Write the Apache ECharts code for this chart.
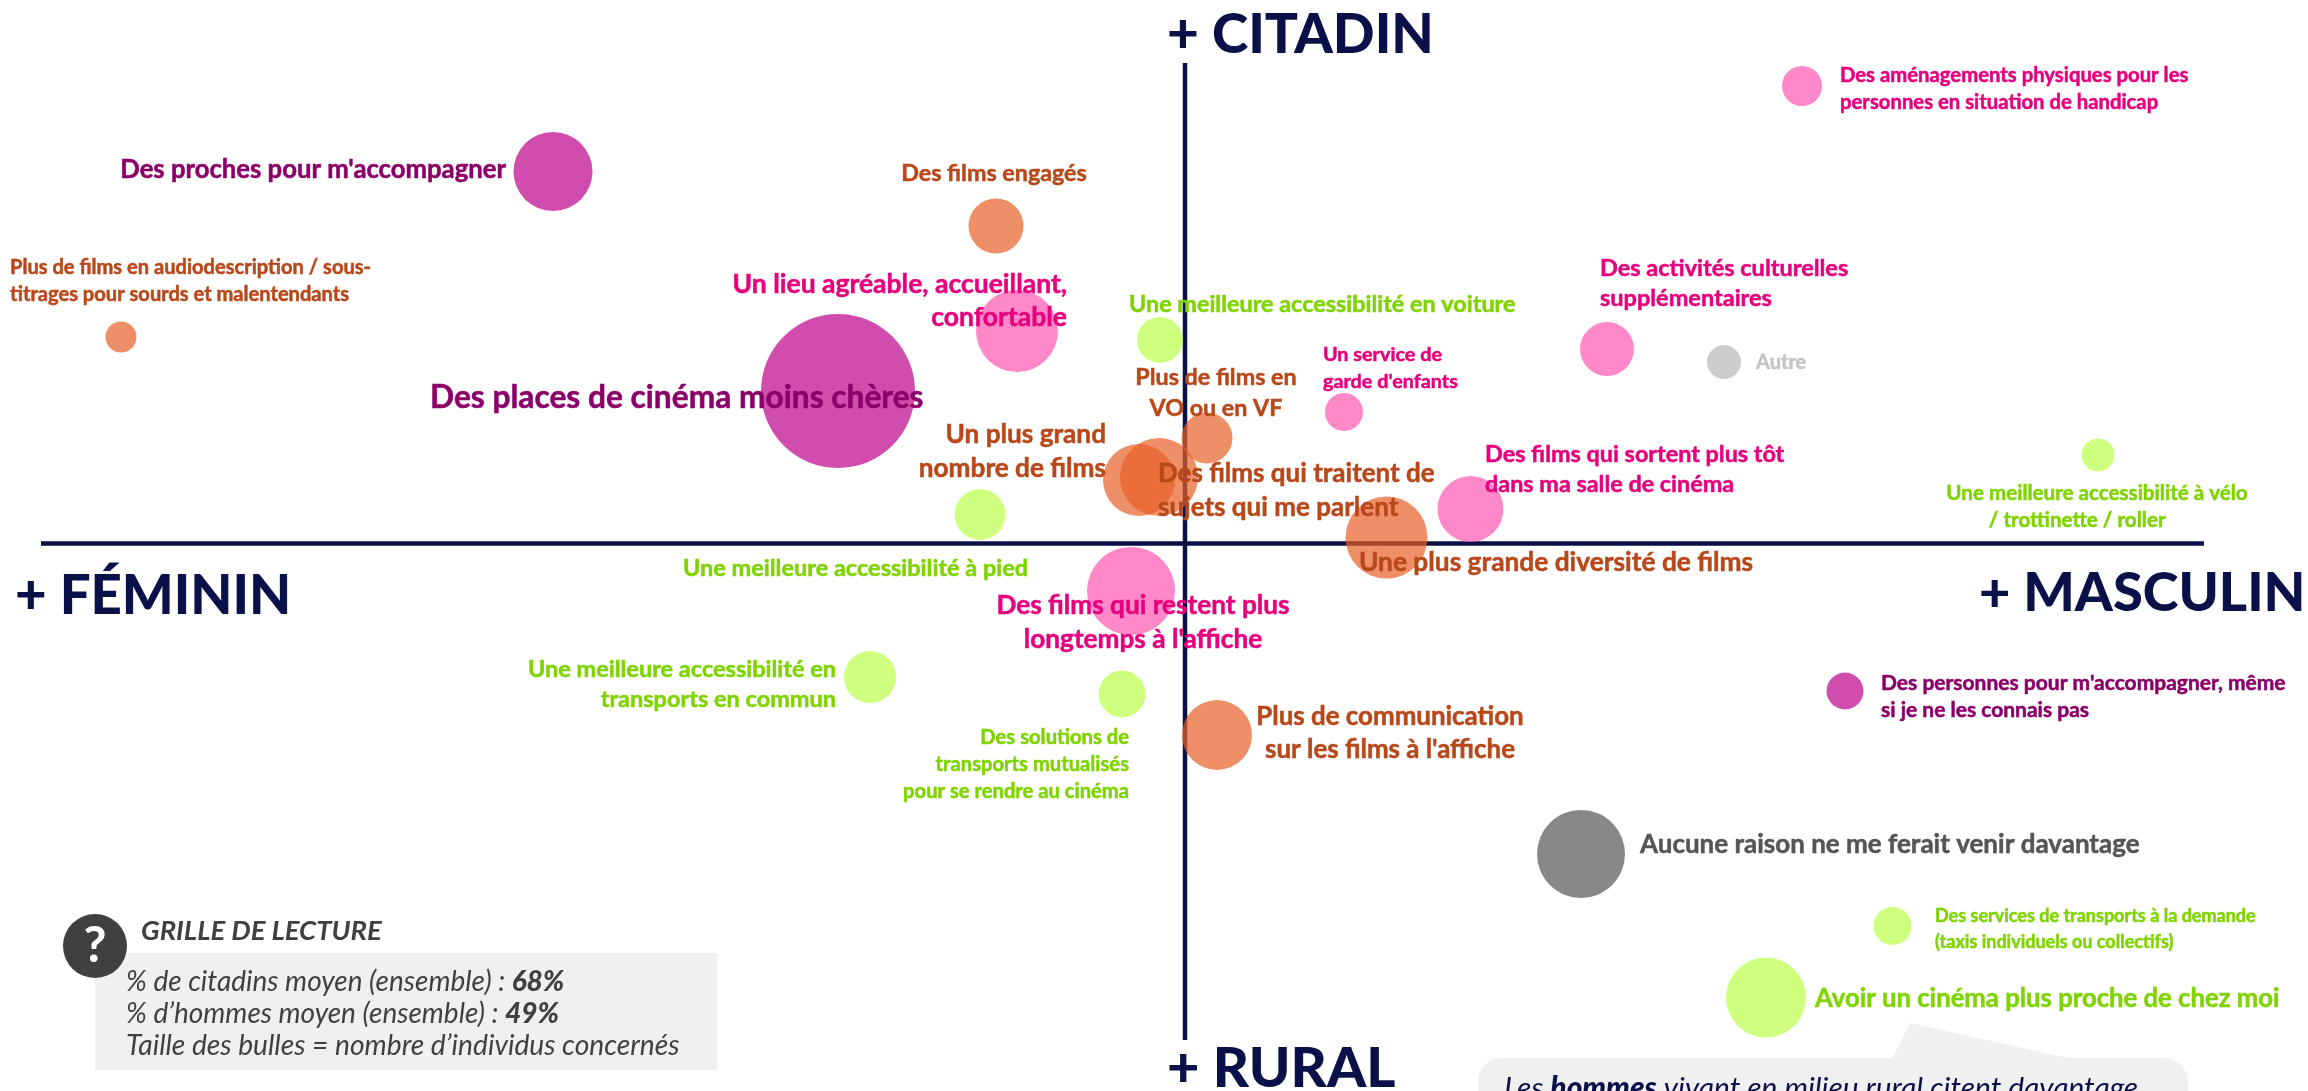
<!DOCTYPE html>
<html>
<head>
<meta charset="utf-8">
<title>Bulles citadin / rural</title>
<script src="https://cdn.jsdelivr.net/npm/echarts@6/dist/echarts.min.js"></script>
<style>
html,body{margin:0;padding:0;background:#fff;overflow:hidden}
#main{width:2308px;height:1091px}
</style>
</head>
<body>
<div id="main"></div>
<script>
// moyennes de l'ensemble
var avgHommes = 49;
var avgCitadins = 68;

var labels = [
	"Des places de cinéma moins chères",
	"Des proches pour m'accompagner",
	"Plus de films en audiodescription / sous-\ntitrages pour sourds et malentendants",
	"Des films engagés",
	"Un lieu agréable, accueillant,\nconfortable",
	"Une meilleure accessibilité en voiture",
	"Plus de films en\nVO ou en VF",
	"Un service de\ngarde d'enfants",
	"Un plus grand\nnombre de films",
	"Des films qui traitent de\nsujets qui me parlent",
	"Une plus grande diversité de films",
	"Des films qui sortent plus tôt\ndans ma salle de cinéma",
	"Une meilleure accessibilité à pied",
	"Des films qui restent plus\nlongtemps à l'affiche",
	"Des activités culturelles\nsupplémentaires",
	"Autre",
	"Des aménagements physiques pour les\npersonnes en situation de handicap",
	"Une meilleure accessibilité à vélo\n/ trottinette / roller\u00a0\u00a0\u00a0\u00a0\u00a0\u00a0\u00a0\u00a0",
	"Des personnes pour m'accompagner, même\nsi je ne les connais pas",
	"Aucune raison ne me ferait venir davantage",
	"Des services de transports à la demande\n(taxis individuels ou collectifs)",
	"Avoir un cinéma plus proche de chez moi",
	"Une meilleure accessibilité en\ntransports en commun",
	"Des solutions de\ntransports mutualisés\npour se rendre au cinéma",
	"Plus de communication\nsur les films à l'affiche"
];
var pctHommes = [42.06,36.36,27.72,45.22,45.64,48.5,49.44,52.18,48.08,48.48,53.03,54.71,44.9,47.92,57.44,59.78,61.34,67.26,62.2,56.92,63.15,60.62,42.7,47.74,49.64];
var pctCitadins = [74.10,82.88,76.26,80.70,76.50,76.14,72.22,73.26,70.54,70.66,68.24,69.38,69.16,66.10,75.78,75.26,86.30,71.54,62.10,55.58,52.70,49.84,62.66,61.98,60.34];
var nbIndividus = [5929,1560,240,756,1681,529,650,361,1296,1521,1681,1089,650,1936,729,289,400,272,342,1936,361,1600,676,552,1225];
var groupes = ["accomp","accomp","offre","offre","salle","acces","offre","salle","offre","offre","offre","salle","acces","salle","salle","autre","salle","acces","accomp","aucune","acces","acces","acces","acces","offre"];

// bornes des axes hommes / citadins
var xRange = [25.3,71.46];
var yRange = [46.10,89.74];
var hLineX = [26.12,69.38];
var vLineY = [48.14,87.22];

var bubbleColor = {accomp:'rgba(188,0,138,0.7)',offre:'rgba(232,96,39,0.7)',salle:'rgba(255,85,176,0.7)',acces:'rgba(186,255,73,0.7)',autre:'rgba(182,182,182,0.7)',aucune:'rgba(85,85,85,0.7)'};
var textColor = {accomp:'#8B0068',offre:'#B8481A',salle:'#E6007E',acces:'#7FD400',autre:'#C4C4C4',aucune:'#555555'};

// x, y, align, fontSize, lineHeight
var labelPos = [
	[430,398,'left',31.7,36],
	[506,170,'right',25.7,32],
	[10,281,'left',20.1,27],
	[994,173,'center',23.3,28],
	[1067,301,'right',26.5,33],
	[1129,304,'left',23.4,28],
	[1216,393,'center',23.3,31],
	[1323,368,'left',19.8,27],
	[1106,452,'right',26.2,34],
	[1158,491,'left',26,34],
	[1359,563,'left',26.3,32],
	[1485,469,'left',23.4,30],
	[683,568,'left',23.5,28],
	[1143,623,'center',26.2,34],
	[1600,283,'left',23.5,30],
	[1756,363,'left',20,24],
	[1840,89,'left',20.3,27],
	[2097,507,'center',20.6,27],
	[1881,697,'left',21,27],
	[1640,845,'left',26,32],
	[1935,929,'left',18,26],
	[1815,999,'left',25.7,32],
	[836,684,'right',23.5,30],
	[1129,764,'right',20.2,27],
	[1390,733,'center',25.9,33]
];

var fontName = 'Lato';

var bubbles = [];
for(var i=0;i<labels.length;i++){
	bubbles.push({
		name:labels[i],
		value:[pctHommes[i],pctCitadins[i],nbIndividus[i]],
		itemStyle:{color:bubbleColor[groupes[i]],opacity:1},
		label:{
			show:true,
			formatter:labels[i],
			color:textColor[groupes[i]],
			textBorderColor:textColor[groupes[i]],
			textBorderWidth:0.5,
			fontSize:labelPos[i][3],
			lineHeight:labelPos[i][4],
			fontFamily:fontName,
			fontWeight:'bold'
		}
	});
}

var myChart = echarts.init(document.getElementById('main'));

var option = {
	animation:false,
	backgroundColor:'#ffffff',
	grid:{left:0,right:0,top:0,bottom:0},
	xAxis:{type:'value',min:xRange[0],max:xRange[1],show:false},
	yAxis:{type:'value',min:yRange[0],max:yRange[1],show:false},
	series:[
		{
			name:'axeH',type:'line',symbol:'none',silent:true,z:1,
			lineStyle:{color:'#0A1048',width:4.5},
			data:[[hLineX[0],avgCitadins],[hLineX[1],avgCitadins]]
		},
		{
			name:'axeV',type:'line',symbol:'none',silent:true,z:1,
			lineStyle:{color:'#0A1048',width:4.5},
			data:[[avgHommes,vLineY[0]],[avgHommes,vLineY[1]]]
		},
		{
			name:'bulles',type:'scatter',z:2,
			symbolSize:function(val){ return 2*Math.sqrt(val[2]); },
			labelLayout:function(params){
				var p = labelPos[params.dataIndex];
				return {x:p[0],y:p[1],align:p[2],verticalAlign:'middle',hideOverlap:false};
			},
			data:bubbles
		}
	],
	graphic:[
		// titres des axes
		{type:'text',x:1167,y:35,z:10,style:{text:'+ CITADIN',fill:'#0A1048',font:'900 55px Lato',textVerticalAlign:'middle'}},
		{type:'text',x:15,y:596,z:10,style:{text:'+ FÉMININ',fill:'#0A1048',font:'900 54.6px Lato',textVerticalAlign:'middle'}},
		{type:'text',x:1979,y:594,z:10,style:{text:'+ MASCULIN',fill:'#0A1048',font:'900 54.2px Lato',textVerticalAlign:'middle'}},
		{type:'text',x:1167,y:1069,z:10,style:{text:'+ RURAL',fill:'#0A1048',font:'900 56px Lato',textVerticalAlign:'middle'}},
		// grille de lecture
		{type:'rect',z:5,shape:{x:95,y:953,width:622,height:117},style:{fill:'#F0F0F0'}},
		{type:'circle',z:6,shape:{cx:95,cy:946,r:32},style:{fill:'#404040'}},
		{type:'text',x:95,y:946,z:7,style:{text:'?',fill:'#fff',font:'bold 50px Lato',textAlign:'center',textVerticalAlign:'middle'}},
		{type:'text',x:141,y:931,z:7,style:{text:'GRILLE DE LECTURE',fill:'#404040',font:'italic bold 27.5px Lato',textVerticalAlign:'middle'}},
		{type:'text',x:126,y:982,z:7,style:{text:'% de citadins moyen (ensemble) : {b|68%}',fill:'#404040',font:'italic 28px Lato',textVerticalAlign:'middle',rich:{b:{font:'italic 900 28px Lato',fill:'#404040'}}}},
		{type:'text',x:126,y:1014,z:7,style:{text:'% d’hommes moyen (ensemble) : {b|49%}',fill:'#404040',font:'italic 28px Lato',textVerticalAlign:'middle',rich:{b:{font:'italic 900 28px Lato',fill:'#404040'}}}},
		{type:'text',x:126,y:1046,z:7,style:{text:'Taille des bulles = nombre d’individus concernés',fill:'#404040',font:'italic 28.2px Lato',textVerticalAlign:'middle'}},
		// encadre bas droite
		{type:'rect',z:5,shape:{x:1478,y:1058,width:710,height:80,r:24},style:{fill:'#F0F0F0'}},
		{type:'polygon',z:5,shape:{points:[[1892,1059],[1910,1023],[2072,1059]]},style:{fill:'#F0F0F0'}},
		{type:'text',x:1504,y:1088,z:7,style:{text:'Les {b|hommes} vivant en milieu rural citent davantage',fill:'#0A1048',font:'italic 29.9px Lato',textVerticalAlign:'middle',rich:{b:{font:'italic 900 29.9px Lato',fill:'#0A1048'}}}}
	]
};
myChart.setOption(option);
</script>
</body>
</html>
